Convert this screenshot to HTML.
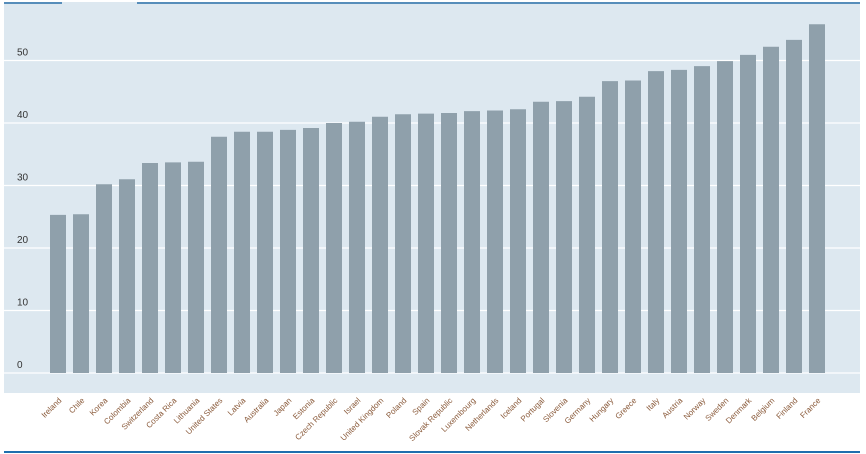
<!DOCTYPE html>
<html><head><meta charset="utf-8"><style>
body{margin:0;background:#fff;font-family:"Liberation Sans",sans-serif}
svg{display:block}
</style></head><body>
<svg width="866" height="454">
<rect x="4" y="2" width="856" height="391" fill="#dde8f0"/>
<line x1="4" y1="3" x2="62" y2="3" stroke="#2a6fa8" stroke-width="1.5"/>
<line x1="137" y1="3" x2="860" y2="3" stroke="#2a6fa8" stroke-width="1.5"/>
<line x1="4" y1="452" x2="860" y2="452" stroke="#1f6fae" stroke-width="2"/>
<g id="grid"></g><g id="bars"></g><g id="labels"></g>
</svg>
<script>
const categories=["Ireland","Chile","Korea","Colombia","Switzerland","Costa Rica","Lithuania","United States","Latvia","Australia","Japan","Estonia","Czech Republic","Israel","United Kingdom","Poland","Spain","Slovak Republic","Luxembourg","Netherlands","Iceland","Portugal","Slovenia","Germany","Hungary","Greece","Italy","Austria","Norway","Sweden","Denmark","Belgium","Finland","France"];
const values=[25.3,25.4,30.2,31.0,33.6,33.7,33.8,37.8,38.6,38.6,38.9,39.2,40.0,40.2,41.0,41.4,41.5,41.6,41.9,42.0,42.2,43.4,43.5,44.2,46.7,46.8,48.3,48.5,49.1,49.9,50.9,52.2,53.3,55.8];
const ticks=[0,10,20,30,40,50];
const NS="http://www.w3.org/2000/svg";
const y=v=>373-6.25*v;
const x=i=>50+i*23;
const grid=document.getElementById('grid'),bars=document.getElementById('bars'),labels=document.getElementById('labels');
ticks.forEach(t=>{
  const l=document.createElementNS(NS,'line');
  l.setAttribute('x1',4);l.setAttribute('x2',860);l.setAttribute('y1',y(t));l.setAttribute('y2',y(t));
  l.setAttribute('stroke','#fff');l.setAttribute('stroke-width','1.2');
  
  
  grid.appendChild(l);
  const tx=document.createElementNS(NS,'text');
  tx.setAttribute('x',17);tx.setAttribute('y',y(t)-5);tx.setAttribute('font-size','10');tx.setAttribute('fill','#333');
  tx.textContent=t;
  
  
  grid.appendChild(tx);
});
categories.forEach((c,i)=>{
  const r=document.createElementNS(NS,'rect');
  r.setAttribute('x',x(i));r.setAttribute('width',16);r.setAttribute('y',y(values[i]));r.setAttribute('height',y(0)-y(values[i]));
  r.setAttribute('fill','#8fa0ab');
  
  
  bars.appendChild(r);
  const t=document.createElementNS(NS,'text');
  const lx=x(i)+12,ly=401;
  t.setAttribute('x',lx);t.setAttribute('y',ly);t.setAttribute('font-size','8');t.setAttribute('fill','#8a5a3a');
  t.setAttribute('text-anchor','end');t.setAttribute('transform','rotate(-45 '+lx+' '+ly+')');
  t.textContent=c;
  
  
  labels.appendChild(t);
});
</script>
</body></html>
